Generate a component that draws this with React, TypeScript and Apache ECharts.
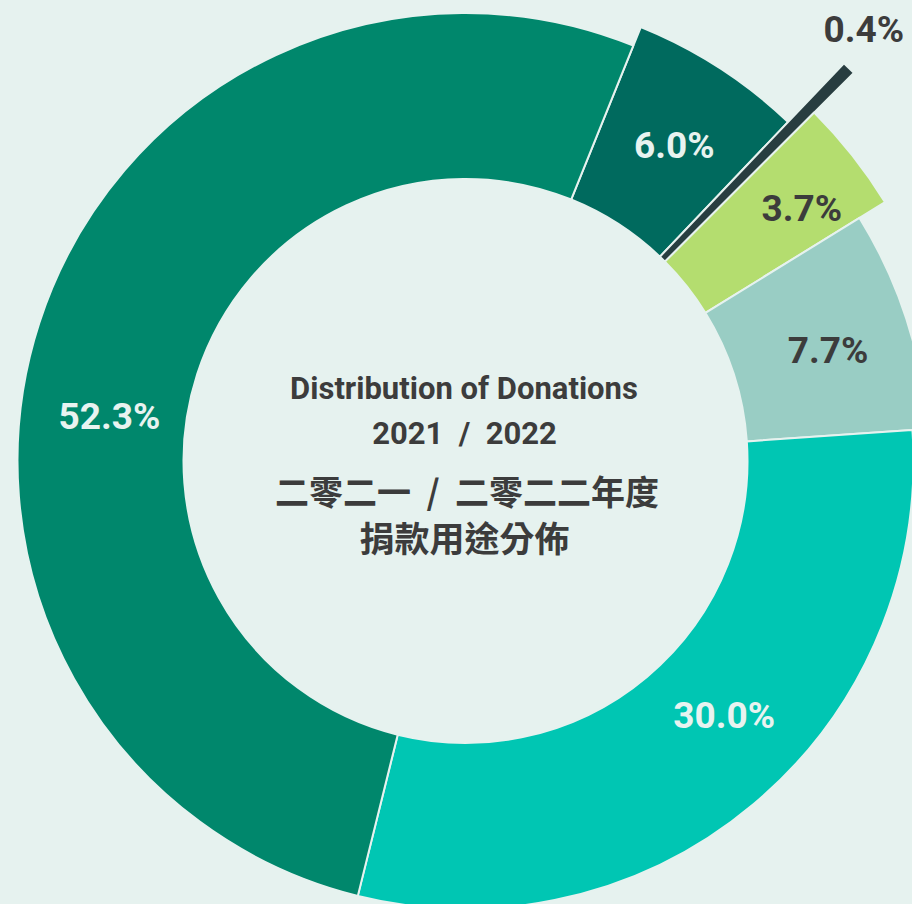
import React, { useEffect, useRef } from 'react';
import * as echarts from 'echarts';

// ---- data ----
const sliceNames = ['6.0%', '0.4%', '3.7%', '7.7%', '30.0%', '52.3%'];
const sliceValues = [6.0, 0.4, 3.7, 7.7, 30.0, 52.3];
const titleLinesEn = ['Distribution of Donations', '2021 / 2022'];
const titleLinesZh = ['二零二一 / 二零二二年度', '捐款用途分佈'];

// ---- styles ----
const BG = '#E6F2EF';
const TEXT_DARK = '#3C3C3C';
const TEXT_LIGHT = '#E8F3F0';
const COLORS = ['#006A5E', '#283D40', '#B4DD6F', '#99CDC4', '#00C6B3', '#00876C'];
const LABEL_COLORS = [TEXT_LIGHT, TEXT_DARK, TEXT_DARK, TEXT_DARK, TEXT_LIGHT, TEXT_LIGHT];
const OUTER = [468, 549, 493, 463, 448, 448];
const INNER = 282;
const CENTER = [465.5, 461];
const LABEL_OFFSETS = [
  [4, 2],
  [106, -132],
  [30, -10],
  [5, 4],
  [22, -27],
  [-6, 69],
];

export default function App() {
  const ref = useRef<HTMLDivElement>(null);

  useEffect(() => {
    if (!ref.current) return;
    const chart = echarts.init(ref.current, undefined, { renderer: 'svg' });

    const series = sliceValues.map((_, k) => ({
      type: 'pie',
      silent: true,
      center: CENTER,
      radius: [INNER, OUTER[k]],
      startAngle: 68,
      clockwise: true,
      avoidLabelOverlap: false,
      label: { show: false },
      labelLine: { show: false },
      emphasis: { disabled: true },
      z: 2,
      data: sliceValues.map((v, i) => ({
        name: sliceNames[i],
        value: v,
        itemStyle:
          i === k
            ? { color: COLORS[i], borderColor: BG, borderWidth: 2 }
            : { color: 'rgba(0,0,0,0)', borderWidth: 0 },
        label:
          i === k
            ? {
                show: true,
                position: 'inside',
                offset: LABEL_OFFSETS[i],
                formatter: (p: any) => Number(p.value).toFixed(1) + '%',
                color: LABEL_COLORS[i],
                fontFamily: 'Roboto',
                fontWeight: 'bold',
                fontSize: 37,
              }
            : { show: false },
        labelLine: { show: false },
      })),
    }));

    const textStyle = (text: string, font: string, lh: number) => ({
      text,
      font,
      lineHeight: lh,
      fill: TEXT_DARK,
      textAlign: 'center',
      textVerticalAlign: 'middle',
      verticalAlign: 'middle',
    });

    chart.setOption({
      animation: false,
      backgroundColor: BG,
      series,
      graphic: [
        { type: 'text', x: 464, y: 388, style: textStyle(titleLinesEn[0], 'bold 31px Roboto', 32) },
        { type: 'text', x: 464.5, y: 433, style: textStyle(titleLinesEn[1].replace(' / ', '  /  '), 'bold 31px Roboto', 32) },
        { type: 'text', x: 467, y: 490, style: textStyle(titleLinesZh[0].replace(' / ', '  /  '), 'bold 34px "Noto Sans CJK TC"', 34) },
        { type: 'text', x: 464.5, y: 536, style: textStyle(titleLinesZh[1], 'bold 35px "Noto Sans CJK TC"', 35) },
      ],
    });

    return () => chart.dispose();
  }, []);

  return (
    <div
      ref={ref}
      style={{ position: 'fixed', left: 0, top: 0, width: 912, height: 904, background: BG }}
    />
  );
}
